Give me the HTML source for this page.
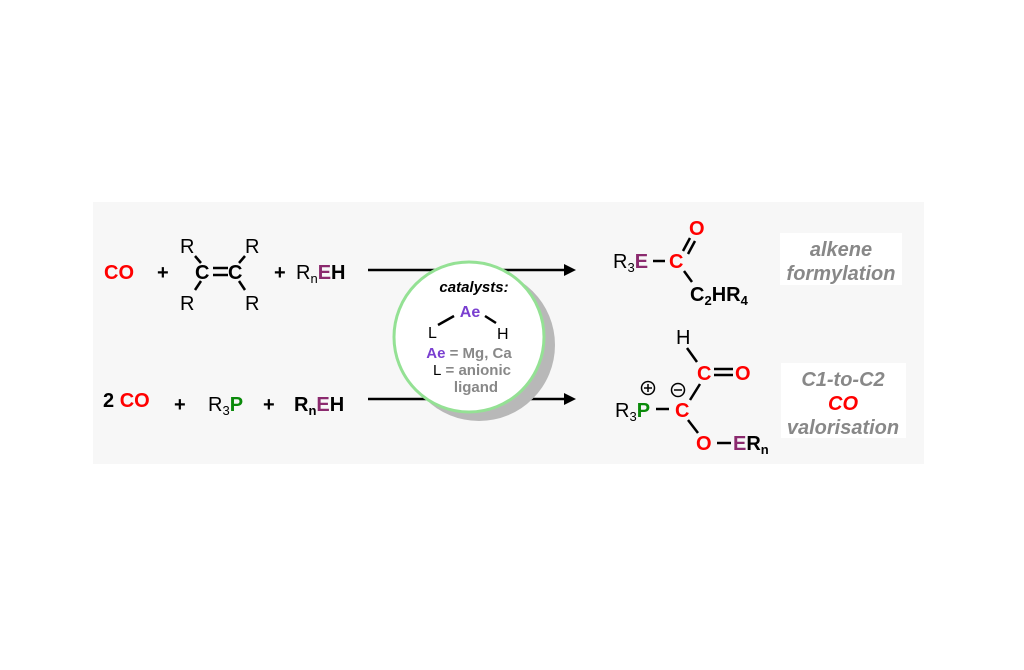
<!DOCTYPE html>
<html><head><meta charset="utf-8"><style>
html,body{margin:0;padding:0;background:#fff;}
svg{display:block;}
text{font-family:"Liberation Sans",Arial,sans-serif;}
.b{font-weight:bold;}
</style></head><body>
<svg width="1024" height="670" viewBox="0 0 1024 670" xmlns="http://www.w3.org/2000/svg">
<rect x="93" y="202" width="831" height="262" fill="#f7f7f7"/>
<g font-size="20">
<!-- Row 1 -->
<text x="104" y="279" class="b" fill="#f00">CO</text>
<text x="157" y="279" class="b">+</text>
<text x="195" y="279" class="b">C</text>
<text x="228" y="279" class="b">C</text>
<line x1="213" y1="268" x2="228" y2="268" stroke="#000" stroke-width="2.5"/>
<line x1="213" y1="275" x2="228" y2="275" stroke="#000" stroke-width="2.5"/>
<text x="180" y="253">R</text><text x="245" y="253">R</text>
<text x="180" y="310">R</text><text x="245" y="310">R</text>
<line x1="195" y1="256" x2="201" y2="263" stroke="#000" stroke-width="2.5"/>
<line x1="245" y1="256" x2="239" y2="263" stroke="#000" stroke-width="2.5"/>
<line x1="201" y1="281" x2="195" y2="290" stroke="#000" stroke-width="2.5"/>
<line x1="239" y1="281" x2="245" y2="290" stroke="#000" stroke-width="2.5"/>
<text x="274" y="279" class="b">+</text>
<text x="296" y="279">R<tspan font-size="13" dy="4">n</tspan><tspan dy="-4" class="b" fill="#8b2a6e">E</tspan><tspan class="b">H</tspan></text>
<!-- Row 2 -->
<text x="103" y="407" class="b">2 <tspan fill="#f00">CO</tspan></text>
<text x="174" y="411" class="b">+</text>
<text x="208" y="411">R<tspan font-size="13" dy="4">3</tspan><tspan dy="-4" class="b" fill="#0a8a0a">P</tspan></text>
<text x="263" y="411" class="b">+</text>
<text x="294" y="411" class="b">R<tspan font-size="13" dy="4">n</tspan><tspan dy="-4" fill="#8b2a6e">E</tspan>H</text>
</g>
<!-- arrows -->
<line x1="368" y1="270" x2="568" y2="270" stroke="#000" stroke-width="2.5"/>
<polygon points="576,270 564,264 564,276" fill="#000"/>
<line x1="368" y1="399" x2="568" y2="399" stroke="#000" stroke-width="2.5"/>
<polygon points="576,399 564,393 564,405" fill="#000"/>
<!-- catalyst circle -->
<circle cx="479" cy="345" r="76" fill="#b8b8b8"/>
<circle cx="469" cy="337" r="75" fill="#fff" stroke="#94e194" stroke-width="3"/>
<text x="474" y="292" font-size="15" font-weight="bold" font-style="italic" text-anchor="middle">catalysts:</text>
<text x="470" y="317" font-size="16" font-weight="bold" fill="#7a3fd0" text-anchor="middle">Ae</text>
<text x="428" y="338" font-size="16">L</text>
<text x="497" y="339" font-size="16">H</text>
<line x1="438" y1="325" x2="454" y2="316" stroke="#000" stroke-width="2.5"/>
<line x1="485" y1="316" x2="496" y2="323" stroke="#000" stroke-width="2.5"/>
<g font-size="15" font-weight="bold" fill="#888" text-anchor="middle">
<text x="469" y="358"><tspan fill="#7a3fd0">Ae</tspan> = Mg, Ca</text>
<text x="472" y="375"><tspan fill="#000" font-weight="normal">L</tspan> = anionic</text>
<text x="476" y="392">ligand</text>
</g>
<!-- product 1 -->
<g font-size="20">
<text x="613" y="268">R<tspan font-size="13" dy="4">3</tspan><tspan dy="-4" class="b" fill="#8b2a6e">E</tspan></text>
<line x1="653" y1="261" x2="665" y2="261" stroke="#000" stroke-width="2.5"/>
<text x="669" y="268" class="b" fill="#f00">C</text>
<text x="689" y="235" class="b" fill="#f00">O</text>
<line x1="683" y1="251" x2="690" y2="238" stroke="#000" stroke-width="2.5"/>
<line x1="688" y1="254" x2="695" y2="241" stroke="#000" stroke-width="2.5"/>
<line x1="684" y1="271" x2="692" y2="282" stroke="#000" stroke-width="2.5"/>
<text x="690" y="301" class="b">C<tspan font-size="13" dy="4">2</tspan><tspan dy="-4">HR</tspan><tspan font-size="13" dy="4">4</tspan></text>
<!-- product 2 -->
<text x="676" y="344">H</text>
<line x1="687" y1="348" x2="697" y2="362" stroke="#000" stroke-width="2.5"/>
<text x="697" y="380" class="b" fill="#f00">C</text>
<line x1="714" y1="369" x2="733" y2="369" stroke="#000" stroke-width="2.5"/>
<line x1="714" y1="375" x2="733" y2="375" stroke="#000" stroke-width="2.5"/>
<text x="735" y="380" class="b" fill="#f00">O</text>
<line x1="700" y1="384" x2="690" y2="400" stroke="#000" stroke-width="2.5"/>
<text x="615" y="417">R<tspan font-size="13" dy="4">3</tspan><tspan dy="-4" class="b" fill="#0a8a0a">P</tspan></text>
<line x1="656" y1="409" x2="669" y2="409" stroke="#000" stroke-width="2.5"/>
<text x="675" y="417" class="b" fill="#f00">C</text>
<line x1="688" y1="420" x2="698" y2="433" stroke="#000" stroke-width="2.5"/>
<text x="696" y="450" class="b" fill="#f00">O</text>
<line x1="717" y1="443" x2="731" y2="443" stroke="#000" stroke-width="2.5"/>
<text x="733" y="450" class="b"><tspan fill="#8b2a6e">E</tspan>R<tspan font-size="13" dy="4">n</tspan></text>
</g>
<circle cx="648" cy="388" r="6.5" fill="none" stroke="#000" stroke-width="1.5"/>
<line x1="644" y1="388" x2="652" y2="388" stroke="#000" stroke-width="1.5"/>
<line x1="648" y1="384" x2="648" y2="392" stroke="#000" stroke-width="1.5"/>
<circle cx="678" cy="390" r="6.5" fill="none" stroke="#000" stroke-width="1.5"/>
<line x1="674" y1="390" x2="682" y2="390" stroke="#000" stroke-width="1.5"/>
<!-- labels -->
<rect x="780" y="233" width="122" height="52" fill="#fff"/>
<rect x="781" y="363" width="125" height="75" fill="#fff"/>
<g font-size="20" font-weight="bold" font-style="italic" fill="#888" text-anchor="middle">
<text x="841" y="256">alkene</text>
<text x="841" y="280">formylation</text>
<text x="843" y="386">C1-to-C2</text>
<text x="843" y="410" fill="#f00">CO</text>
<text x="843" y="434">valorisation</text>
</g>
</svg>
</body></html>
